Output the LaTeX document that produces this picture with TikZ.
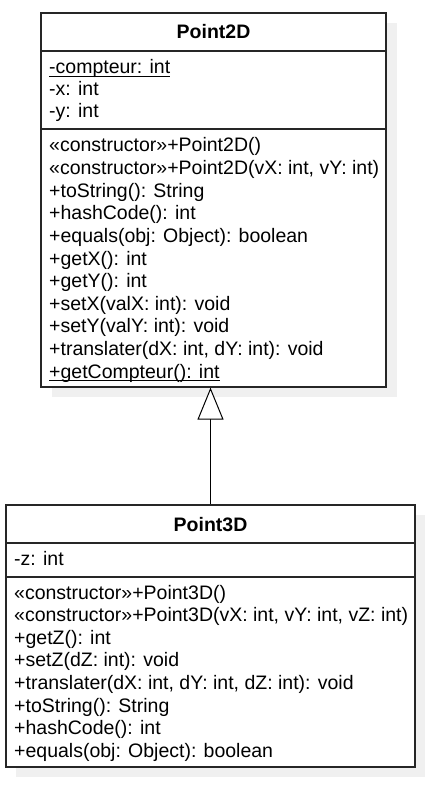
\documentclass[tikz,border=0pt]{standalone}
\usepackage{fontspec}
\setmainfont{Liberation Sans}
\usetikzlibrary{arrows.meta}
\tikzset{
  classbox/.style={draw=black!85, line width=1.2pt, fill=white, inner sep=0pt},
  shadowbox/.style={fill=black!6, draw=none, inner sep=0pt},
  divider/.style={draw=black!85, line width=1.2pt},
  uline/.style={draw=black, line width=0.9pt},
  txt/.style={anchor=base west, inner sep=0pt, font=\fontsize{19.5}{23}\selectfont},
  title/.style={anchor=base, inner sep=0pt, font=\fontsize{19.5}{23}\selectfont\bfseries},
  inherit/.style={draw=black, line width=1pt, -{Triangle[open, width=26pt, length=32pt, fill=white]}}
}
\begin{document}
\begin{tikzpicture}[x=1pt,y=-1pt]
\useasboundingbox (0,0) rectangle (433,786);
% Point2D
\node[shadowbox, minimum width=345pt, minimum height=374pt] (p2dsh) at (224.5,210) {};
\node[classbox, minimum width=345pt, minimum height=374pt] (p2d) at (213.5,200) {};
\draw[divider] (41,51) -- (386,51);
\draw[divider] (41,129) -- (386,129);
\node[title] (p2dt) at (213.5,39) {Point2D};
\node[txt] (a1) at (49,74) {-compteur: int};
\draw[uline] ([yshift=-2.2pt]a1.base west) -- ([yshift=-2.2pt]a1.base east);
\node[txt] (a2) at (49,96) {-x: int};
\node[txt] (a3) at (49,118) {-y: int};
\node[txt] (m1) at (49,152) {«constructor»+Point2D()};
\node[txt] (m2) at (49,174.6) {«constructor»+Point2D(vX: int, vY: int)};
\node[txt] (m3) at (49,197.2) {+toString(): String};
\node[txt] (m4) at (49,219.8) {+hashCode(): int};
\node[txt] (m5) at (49,242.4) {+equals(obj: Object): boolean};
\node[txt] (m6) at (49,265) {+getX(): int};
\node[txt] (m7) at (49,287.6) {+getY(): int};
\node[txt] (m8) at (49,310.2) {+setX(valX: int): void};
\node[txt] (m9) at (49,332.8) {+setY(valY: int): void};
\node[txt] (m10) at (49,355.4) {+translater(dX: int, dY: int): void};
\node[txt] (m11) at (49,378) {+getCompteur(): int};
\draw[uline] ([yshift=-2.2pt]m11.base west) -- ([yshift=-2.2pt]m11.base east);
% Point3D
\node[shadowbox, minimum width=409pt, minimum height=262pt] (p3dsh) at (220.5,646) {};
\node[classbox, minimum width=409pt, minimum height=262pt] (p3d) at (210.5,636) {};
\draw[divider] (6,543) -- (415,543);
\draw[divider] (6,577) -- (415,577);
\node[title] (p3dt) at (210.5,531) {Point3D};
\node[txt] (b1) at (14,565) {-z: int};
\node[txt] (n1) at (14,599) {«constructor»+Point3D()};
\node[txt] (n2) at (14,621.6) {«constructor»+Point3D(vX: int, vY: int, vZ: int)};
\node[txt] (n3) at (14,644.2) {+getZ(): int};
\node[txt] (n4) at (14,666.8) {+setZ(dZ: int): void};
\node[txt] (n5) at (14,689.4) {+translater(dX: int, dY: int, dZ: int): void};
\node[txt] (n6) at (14,712) {+toString(): String};
\node[txt] (n7) at (14,734.6) {+hashCode(): int};
\node[txt] (n8) at (14,757.2) {+equals(obj: Object): boolean};
% inheritance
\draw[inherit] (p3d.north) -- (p3d.north |- p2d.south);
\end{tikzpicture}
\end{document}
